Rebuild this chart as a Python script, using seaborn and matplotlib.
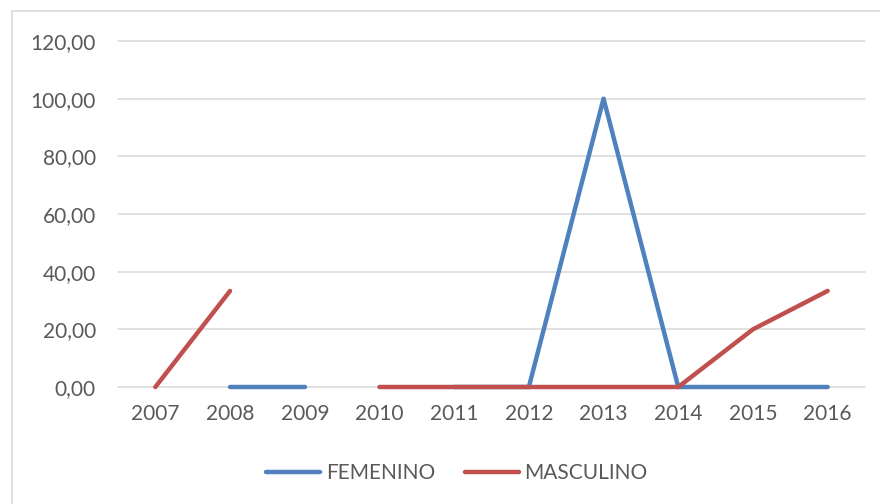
import numpy as np
import matplotlib
matplotlib.use("Agg")
import matplotlib.pyplot as plt
from matplotlib.lines import Line2D
from matplotlib.patches import Rectangle
import seaborn as sns
import pandas as pd

years = ["2007", "2008", "2009", "2010", "2011", "2012", "2013", "2014", "2015", "2016"]
femenino = [np.nan, 0.0, 0.0, np.nan, 0.0, 0.0, 100.0, 0.0, 0.0, 0.0]
masculino = [0.0, 33.33, np.nan, 0.0, 0.0, 0.0, 0.0, 0.0, 20.0, 33.33]
series_names = ["FEMENINO", "MASCULINO"]
series_colors = ["#4F81BD", "#C0504D"]
y_ticks = [0, 20, 40, 60, 80, 100, 120]

sns.set_theme(style="white")
plt.rcParams["font.family"] = ["Lato", "DejaVu Sans"]
text_color = "#595959"
grid_color = "#D9D9D9"
font_size = 15

fig = plt.figure(figsize=(8.8, 5.04), dpi=100)
ax = fig.add_axes([118 / 880, 1 - 387 / 504, (865 - 118) / 880, (387 - 41) / 504])

# chart border
fig.patches.append(Rectangle((12 / 880, -0.1), 1.2, 1 - 11 / 504 + 0.1,
                             transform=fig.transFigure, fill=False,
                             edgecolor=grid_color, linewidth=1.2))

for y in y_ticks:
    ax.axhline(y, color=grid_color, linewidth=1.1, zorder=0, clip_on=False)


def draw_series(values, color, z):
    df = pd.DataFrame({"x": np.arange(len(values)), "y": values})
    seg_id = df["y"].isna().cumsum()
    for _, seg in df[df["y"].notna()].groupby(seg_id[df["y"].notna()]):
        if len(seg) < 2:
            continue
        sns.lineplot(data=seg, x="x", y="y", ax=ax, color=color, linewidth=3.2,
                     solid_capstyle="round", solid_joinstyle="round",
                     zorder=z, legend=False, clip_on=False)


draw_series(femenino, series_colors[0], 2)
draw_series(masculino, series_colors[1], 3)

ax.set_xlim(-0.5, len(years) - 0.5)
ax.set_ylim(0, 120)
ax.set_xticks(np.arange(len(years)))
ax.set_xticklabels(years)
ax.set_yticks(y_ticks)
ax.set_yticklabels([f"{v:.2f}".replace(".", ",") for v in y_ticks])
ax.tick_params(axis="both", length=0, labelsize=font_size, colors=text_color)
ax.tick_params(axis="y", pad=16)
ax.tick_params(axis="x", pad=12)
ax.set_xlabel("")
ax.set_ylabel("")
for s in ax.spines.values():
    s.set_visible(False)
ax.patch.set_alpha(0)

handles = [Line2D([0], [0], color=c, linewidth=3.2, solid_capstyle="round")
           for c in series_colors]
fig.legend(handles, series_names, loc="center", bbox_to_anchor=(457 / 880, 1 - 473 / 504),
           ncol=2, frameon=False, fontsize=font_size, labelcolor=text_color,
           handlelength=2.6, handletextpad=0.25, columnspacing=1.45)

fig.savefig("out.png", dpi=100)
